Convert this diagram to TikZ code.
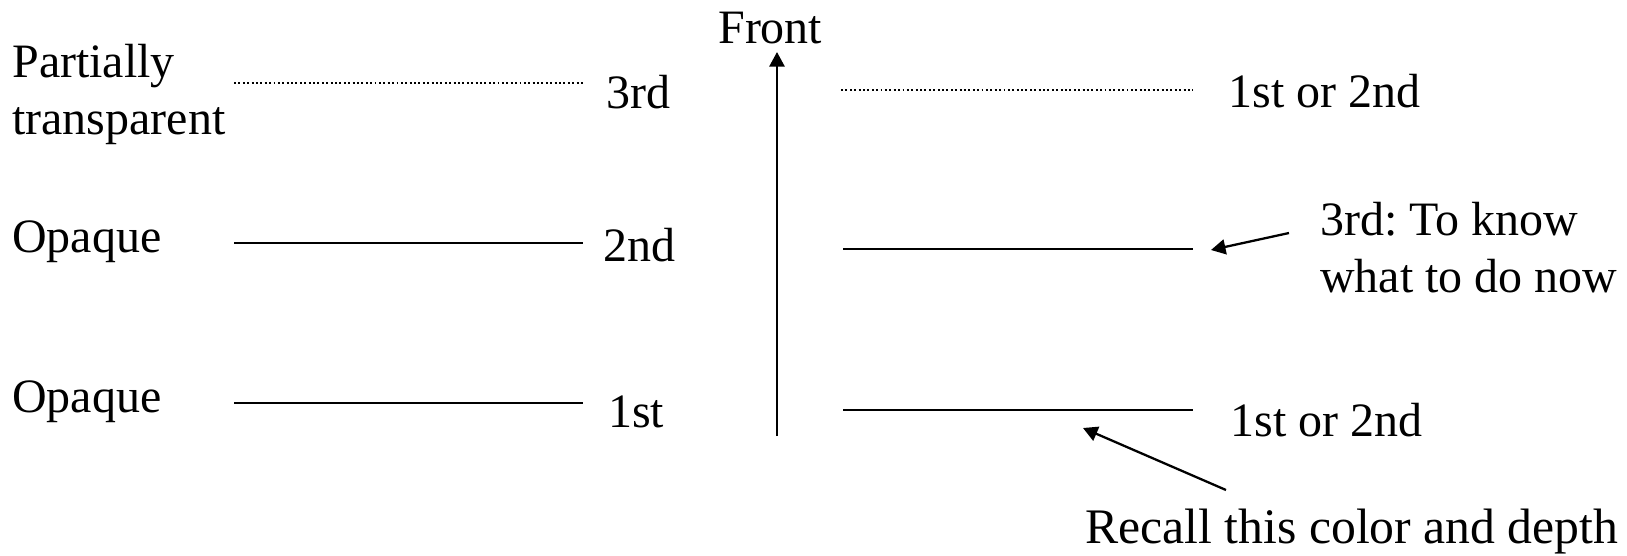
\documentclass[tikz,border=0pt]{standalone}
\usepackage{fontspec}
\setmainfont{Liberation Serif}
\usetikzlibrary{arrows.meta}
\frenchspacing

\begin{document}
\begin{tikzpicture}[x=0.02cm,y=-0.02cm,
        every node/.style={inner sep=0pt,anchor=base west,align=left,
            font=\fontsize{27.3pt}{32.4pt}\selectfont},
        surface/.style={line width=1.1pt},
        seethru/.style={line width=1.1pt,dash pattern=on 1.1pt off 1.4pt},
        pointer/.style={line width=1.3pt,-{Triangle[length=0.29cm,width=0.3cm]}}]
    \useasboundingbox (0,0) rectangle (1627,555);

    % scene on the left (multi-line nodes sit on their last line)
    \node (partial) at (12,134) {Partially\\transparent};
    \node (opaqueB) at (12,252) {Opaque};
    \node (opaqueA) at (12,412) {Opaque};
    \coordinate (l3a) at (234,83);  \coordinate (l3b) at (583,83);
    \coordinate (l2a) at (234,243); \coordinate (l2b) at (583,243);
    \coordinate (l1a) at (234,403); \coordinate (l1b) at (583,403);
    \draw[seethru] (l3a) -- (l3b);
    \draw[surface] (l2a) -- (l2b);
    \draw[surface] (l1a) -- (l1b);
    \node (third) at (606,108) {3rd};
    \node (second) at (603,261) {2nd};
    \node (first) at (608,427) {1st};

    % depth axis
    \coordinate (back) at (777,436);
    \node (front) at (718,43) {Front};
    \draw[pointer] (back) -- (777,52);

    % scene on the right
    \coordinate (r3a) at (841,90);  \coordinate (r3b) at (1193,90);
    \coordinate (r2a) at (843,249); \coordinate (r2b) at (1193,249);
    \coordinate (r1a) at (843,410); \coordinate (r1b) at (1193,410);
    \draw[seethru] (r3a) -- (r3b);
    \draw[surface] (r2a) -- (r2b);
    \draw[surface] (r1a) -- (r1b);
    \node (topres) at (1228,107) {1st or 2nd};
    \node (now) at (1320,292) {3rd: To know\\what to do now};
    \node (botres) at (1230,436) {1st or 2nd};
    \node[font=\fontsize{28.3pt}{34pt}\selectfont] (recall) at (1085,543) {Recall this color and depth};

    \coordinate (nowtail) at (1289,233);
    \coordinate (nowtip) at (1211,250);
    \coordinate (recalltail) at (1226,490);
    \coordinate (recalltip) at (1083,428);
    \draw[pointer] (nowtail) -- (nowtip);
    \draw[pointer] (recalltail) -- (recalltip);
\end{tikzpicture}
\end{document}
